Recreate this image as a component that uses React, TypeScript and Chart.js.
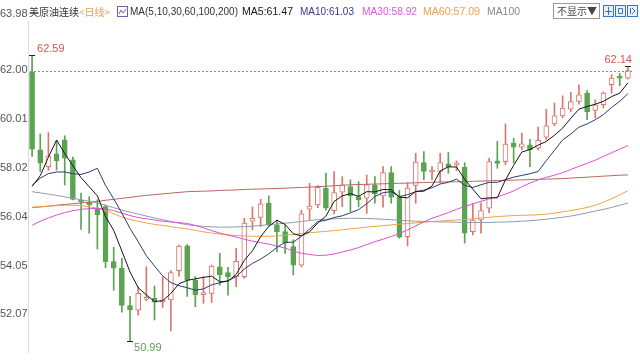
import React, { useEffect, useRef } from "react";
import { Chart, registerables } from "chart.js";

Chart.register(...registerables);

// ---- data ----
const opens = [61.91,58.75,58.07,58.59,59.15,58.34,56.70,56.61,56.38,56.44, 54.21,53.94,52.42,52.24,52.68,52.72,52.57,52.65,53.84,54.85, 53.46,52.87,52.92,54.00,53.76,53.60,53.60,55.85,56.00,56.58, 55.70,55.43,54.82,54.07,56.34,56.51,57.19,56.28,57.03,57.26, 56.85,56.79,57.33,56.88,57.83,56.85,55.22,57.30,58.23,57.85, 57.87,58.18,58.14,58.04,55.43,55.90,56.38,58.30,58.27,59.02, 58.86,58.95,58.82,59.26,59.80,60.13,60.40,60.71,61.05,60.35, 60.58,61.39,61.70,61.66];
const highs = [62.59,59.39,59.45,59.13,59.32,58.45,56.99,56.85,56.72,56.51, 54.79,54.34,52.80,53.19,54.00,53.22,53.60,53.85,54.89,54.90, 53.60,53.60,54.07,54.55,53.98,54.75,55.97,56.43,56.74,56.88, 55.90,55.70,55.10,56.30,57.39,57.30,57.80,57.87,57.66,57.53, 57.46,57.73,57.66,58.07,58.07,57.10,57.40,58.61,58.68,58.07, 58.61,58.64,58.30,58.23,56.58,56.60,58.41,59.09,59.80,59.22, 59.43,59.18,59.67,60.40,60.65,60.94,61.08,61.39,61.15,60.78, 61.10,61.80,61.85,62.14];
const lows = [58.48,57.87,57.91,57.93,57.32,56.72,55.52,55.36,54.72,53.96, 53.05,52.16,50.99,52.04,52.62,51.84,52.35,51.40,53.62,52.80, 52.38,52.52,52.55,53.25,52.85,53.19,53.53,55.50,55.63,55.65, 54.61,54.54,53.67,54.00,55.90,56.40,56.30,56.15,56.44,56.24, 56.44,56.17,56.58,56.42,56.58,55.16,54.85,56.58,57.53,57.53, 57.40,57.80,57.90,54.96,55.29,55.36,56.20,58.00,58.14,58.21, 58.75,58.07,58.75,59.15,59.72,60.05,60.30,60.60,59.97,60.04, 60.45,61.05,61.35,61.62];
const closes = [58.78,58.21,58.50,58.31,58.41,56.74,56.62,56.52,56.11,54.21, 53.94,52.43,52.26,52.92,52.76,52.56,52.61,53.76,54.84,53.46, 52.87,52.92,54.03,53.67,53.60,54.22,55.77,55.97,56.56,55.70, 55.43,54.96,54.07,56.15,56.47,57.23,56.38,57.01,57.33,56.88, 56.72,57.33,56.96,57.83,56.83,55.20,57.20,58.25,57.87,57.89, 58.23,58.07,58.21,55.36,55.90,56.28,58.27,58.20,58.98,58.86, 58.99,58.75,59.13,59.72,60.13,60.44,60.71,60.98,60.30,60.58, 61.05,61.66,61.66,61.97];

const ma5 = [57.26,57.70,58.45,59.15,58.60,58.10,57.62,57.25,56.88,56.04, 55.48,54.64,53.79,53.15,52.86,52.59,52.62,52.92,53.31,53.45, 53.51,53.57,53.62,53.39,53.42,53.69,54.26,54.65,55.22,55.64, 55.89,55.72,55.34,55.26,55.42,55.78,56.06,56.65,56.88,56.97, 56.86,57.05,57.04,57.14,57.13,56.83,56.80,57.06,57.07,57.28, 57.89,58.06,58.05,57.55,57.15,56.76,56.80,56.80,57.53,58.12, 58.66,58.76,58.94,59.09,59.34,59.63,60.03,60.40,60.51,60.60, 60.72,60.91,61.05,61.47];
const ma10 = [57.30,57.60,57.78,57.85,57.85,57.78,57.75,57.85,58.00,57.30, 56.76,56.18,55.56,55.02,54.45,54.03,53.63,53.36,53.23,53.15, 53.05,53.10,53.27,53.35,53.43,53.60,53.91,54.14,54.31,54.53, 54.79,54.99,55.00,55.24,55.53,55.83,55.89,56.00,56.07,56.19, 56.32,56.56,56.85,57.01,57.05,56.85,56.93,57.05,57.11,57.21, 57.36,57.43,57.56,57.31,57.22,57.33,57.43,57.43,57.54,57.64, 57.71,57.78,57.87,58.31,58.73,59.15,59.39,59.67,59.80,59.97, 60.18,60.47,60.72,61.03];
const ma30 = [55.68,55.85,55.98,56.10,56.20,56.28,56.33,56.36,56.37,56.34, 56.28,56.18,56.08,56.00,55.95,55.90,55.85,55.82,55.79,55.76, 55.68,55.58,55.47,55.37,55.28,55.21,55.12,55.04,54.98,54.92, 54.84,54.76,54.64,54.55,54.50,54.46,54.47,54.52,54.60,54.68, 54.78,54.90,55.02,55.12,55.23,55.35,55.50,55.66,55.82,55.97, 56.08,56.20,56.33,56.45,56.55,56.66,56.76,56.84,56.95,57.08, 57.25,57.40,57.53,57.63,57.72,57.82,57.95,58.08,58.20,58.33, 58.48,58.63,58.78,58.92];
const ma60 = [56.42,56.44,56.46,56.48,56.50,56.50,56.48,56.44,56.38,56.28, 56.15,56.02,55.92,55.85,55.78,55.72,55.68,55.63,55.58,55.54, 55.48,55.42,55.37,55.33,55.30,55.27,55.25,55.24,55.24,55.24, 55.25,55.28,55.31,55.35,55.38,55.41,55.44,55.47,55.50,55.54, 55.57,55.61,55.64,55.67,55.70,55.73,55.76,55.78,55.81,55.84, 55.86,55.88,55.90,55.92,55.95,55.98,56.01,56.04,56.06,56.08, 56.09,56.10,56.11,56.14,56.18,56.23,56.28,56.34,56.41,56.50, 56.62,56.76,56.92,57.09];
const ma100 = [57.05,57.00,56.95,56.90,56.84,56.78,56.72,56.66,56.59,56.50, 56.40,56.30,56.22,56.14,56.06,55.98,55.91,55.84,55.77,55.71, 55.67,55.64,55.62,55.61,55.61,55.62,55.63,55.65,55.68,55.71, 55.74,55.77,55.80,55.84,55.88,55.91,55.93,55.95,55.96,55.97, 55.97,55.96,55.95,55.93,55.91,55.89,55.87,55.85,55.84,55.83, 55.82,55.82,55.81,55.80,55.80,55.80,55.80,55.81,55.82,55.83, 55.85,55.87,55.90,55.93,55.97,56.01,56.06,56.12,56.19,56.26, 56.33,56.41,56.50,56.59];
const ma200 = [56.40,56.43,56.46,56.50,56.53,56.56,56.59,56.62,56.65,56.70, 56.74,56.78,56.82,56.86,56.90,56.93,56.96,56.99,57.02,57.05, 57.06,57.07,57.08,57.10,57.11,57.12,57.14,57.15,57.16,57.17, 57.18,57.19,57.21,57.22,57.24,57.25,57.27,57.29,57.31,57.33, 57.34,57.35,57.36,57.37,57.38,57.39,57.40,57.41,57.42,57.43, 57.44,57.45,57.45,57.46,57.47,57.48,57.49,57.50,57.51,57.52, 57.53,57.54,57.55,57.56,57.57,57.58,57.60,57.62,57.64,57.66, 57.68,57.70,57.72,57.73];

const yTicks = [63.98, 62.00, 60.01, 58.02, 56.04, 54.05, 52.07];
const Y_MAX = 63.98;
const Y_MIN = 50.54;

const UP = "#d9776c";
const DOWN = "#5aa351";
const C_MA5 = "#151515";
const C_MA10 = "#2d3a6e";
const C_MA30 = "#dc4fdc";
const C_MA60 = "#f0a248";
const C_MA100 = "#8d9bab";
const C_MA200 = "#bb6560";

const LATIN = '11px "Liberation Sans", Arial, sans-serif';
const CJK = '10px "Noto Sans CJK SC", sans-serif';

export default function App() {
  const ref = useRef<HTMLCanvasElement>(null);

  useEffect(() => {
    document.body.style.margin = "0";
    const canvas = ref.current;
    if (!canvas) return;
    const n = closes.length;
    const categories = closes.map((_, i) => String(i + 1));
    const isUp = closes.map((c, i) => c >= opens[i]);

    const overlay = {
      id: "overlay",
      afterDatasetsDraw(chart: any) {
        const ctx = chart.ctx;
        const xs = chart.scales.x;
        const ys = chart.scales.y;
        const area = chart.chartArea;
        ctx.save();
        // last price dotted line
        const ly = Math.round(ys.getPixelForValue(closes[n - 1])) + 0.5;
        ctx.strokeStyle = "#3fa4d8";
        ctx.lineWidth = 1;
        ctx.setLineDash([2, 2]);
        ctx.beginPath();
        ctx.moveTo(area.left + 2, ly);
        ctx.lineTo(area.right, ly);
        ctx.stroke();
        ctx.setLineDash([]);

        const maxV = Math.max(...highs);
        const maxI = highs.indexOf(maxV);
        const minV = Math.min(...lows);
        const minI = lows.indexOf(minV);
        const tick = (i: number, v: number) => {
          const px = xs.getPixelForValue(i);
          const py = Math.round(ys.getPixelForValue(v)) + 0.5;
          ctx.strokeStyle = "#222";
          ctx.beginPath();
          ctx.moveTo(px - 3, py);
          ctx.lineTo(px + 3, py);
          ctx.stroke();
          return { px, py };
        };
        ctx.font = LATIN;
        ctx.textBaseline = "middle";
        let p = tick(maxI, maxV);
        ctx.fillStyle = "#d0584c";
        ctx.textAlign = "left";
        ctx.fillText(maxV.toFixed(2), p.px + 5, p.py - 7);
        p = tick(minI, minV);
        ctx.fillStyle = "#5a9f50";
        ctx.fillText(minV.toFixed(2), p.px + 4, p.py + 6);
        p = tick(n - 1, highs[n - 1]);
        ctx.fillStyle = "#d0584c";
        ctx.textAlign = "right";
        ctx.fillText(highs[n - 1].toFixed(2), p.px + 4, p.py - 7);
        ctx.restore();
      },
      afterDraw(chart: any) {
        const ctx = chart.ctx;
        const ys = chart.scales.y;
        ctx.save();
        // y labels
        ctx.font = LATIN;
        ctx.fillStyle = "#555";
        ctx.textAlign = "left";
        ctx.textBaseline = "middle";
        ys.ticks.forEach((t: any, i: number) => {
          const y = ys.getPixelForValue(t.value) - (i === 0 ? 7 : 0);
          ctx.fillText(Number(t.value).toFixed(2), 0, y);
        });

        // header
        const hy = 12;
        ctx.font = CJK;
        ctx.fillStyle = "#333";
        ctx.fillText("美原油连续", 29, hy);
        ctx.fillStyle = "#f0a040";
        ctx.fillText("<日线>", 79, hy);
        // small indicator icon
        ctx.strokeStyle = "#7a5aa8";
        ctx.lineWidth = 1;
        ctx.strokeRect(117.5, 6.5, 10, 10);
        ctx.beginPath();
        ctx.moveTo(119, 14);
        ctx.lineTo(121, 10);
        ctx.lineTo(123, 13);
        ctx.lineTo(126, 9);
        ctx.stroke();
        ctx.font = LATIN;
        const segs: [string, number, number, string][] = [
          ["MA(5,10,30,60,100,200)", 130, 108, "#333"],
          ["MA5:" + ma5[n - 1].toFixed(2), 242, 51, C_MA5],
          ["MA10:" + ma10[n - 1].toFixed(2), 300, 54, "#3a3a8c"],
          ["MA30:" + ma30[n - 1].toFixed(2), 362, 55, "#dd55dd"],
          ["MA60:" + ma60[n - 1].toFixed(2), 423, 57, "#f0a050"],
          ["MA100", 487, 33, "#888"],
        ];
        segs.forEach(([t, x, w, c]) => {
          ctx.fillStyle = c;
          ctx.fillText(t, x, hy, w);
        });
        // "不显示" dropdown
        ctx.strokeStyle = "#999";
        ctx.strokeRect(553.5, 3.5, 46, 15);
        ctx.font = CJK;
        ctx.fillStyle = "#444";
        ctx.fillText("不显示▼", 557, 11);
        // toolbar icons
        [603, 615, 627].forEach((x, k) => {
          ctx.strokeStyle = "#3a72c8";
          ctx.fillStyle = "#e8f0fb";
          ctx.fillRect(x + 0.5, 5.5, 10, 11);
          ctx.strokeRect(x + 0.5, 5.5, 10, 11);
          ctx.beginPath();
          if (k === 0) {
            ctx.moveTo(x + 5.5, 7); ctx.lineTo(x + 5.5, 15);
            ctx.moveTo(x + 2, 11.5); ctx.lineTo(x + 9, 11.5);
          } else if (k === 1) {
            ctx.rect(x + 3.5, 8.5, 4, 5);
          } else {
            ctx.moveTo(x + 3.5, 8); ctx.lineTo(x + 3.5, 14);
            ctx.moveTo(x + 5, 8); ctx.lineTo(x + 8, 11); ctx.lineTo(x + 5, 14);
          }
          ctx.stroke();
        });
        ctx.restore();
      },
    };

    const line = (label: string, data: number[], color: string) => ({
      type: "line" as const,
      label,
      data,
      borderColor: color,
      borderWidth: 1,
      pointRadius: 0,
      tension: 0,
      fill: false,
      order: 0,
    });

    const chart = new Chart(canvas, {
      type: "bar",
      data: {
        labels: categories,
        datasets: [
          line("MA5", ma5, C_MA5),
          line("MA10", ma10, C_MA10),
          line("MA30", ma30, C_MA30),
          line("MA60", ma60, C_MA60),
          line("MA100", ma100, C_MA100),
          line("MA200", ma200, C_MA200),
          {
            type: "bar",
            label: "body",
            data: opens.map((o, i) => [o, closes[i]]),
            backgroundColor: isUp.map((u) => (u ? "#ffffff" : DOWN)),
            borderColor: isUp.map((u) => (u ? UP : DOWN)),
            borderWidth: 1,
            borderSkipped: false,
            barThickness: 5,
            minBarLength: 2,
            grouped: false,
            order: 1,
          } as any,
          {
            type: "bar",
            label: "wick",
            data: lows.map((l, i) => [l, highs[i]]),
            backgroundColor: isUp.map((u) => (u ? UP : DOWN)),
            barThickness: 1,
            grouped: false,
            order: 2,
          } as any,
        ],
      },
      options: {
        responsive: false,
        animation: false,
        events: [],
        layout: { padding: { left: 0, right: 8, top: 21, bottom: 8 } },
        plugins: { legend: { display: false }, tooltip: { enabled: false } },
        scales: {
          x: { display: false, offset: true, grid: { display: false } },
          y: {
            min: Y_MIN,
            max: Y_MAX,
            afterBuildTicks: (s: any) => {
              s.ticks = yTicks.map((v) => ({ value: v }));
            },
            afterFit: (s: any) => {
              s.width = 28;
            },
            ticks: { display: false },
            grid: { drawOnChartArea: false, drawTicks: false },
            border: { display: true, color: "#dcdcdc" },
          },
        },
      } as any,
      plugins: [overlay],
    });
    return () => chart.destroy();
  }, []);

  return (
    <div style={{ width: 640, height: 360, background: "#fff" }}>
      <canvas ref={ref} width={640} height={360} style={{ display: "block", width: 640, height: 360 }} />
    </div>
  );
}
